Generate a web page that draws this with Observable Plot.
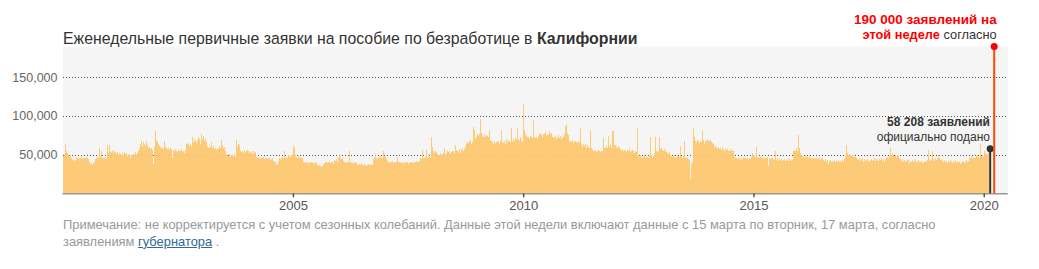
<!DOCTYPE html>
<html>
<head>
<meta charset="utf-8">
<script src="https://cdn.jsdelivr.net/npm/d3@7"></script>
<script src="https://cdn.jsdelivr.net/npm/@observablehq/plot@0.6"></script>
<style>
  body { margin: 0; background: #fff; font-family: "Liberation Sans", Arial, sans-serif; }
  #wrap { position: relative; width: 1039px; height: 269px; overflow: hidden; }
  #wrap svg { position: absolute; left: 0; top: 0; }
  .t { position: absolute; white-space: nowrap; }
  #title { left: 63px; top: 30.9px; font-size: 15.85px; line-height: 16px; color: #333; }
  #title b { font-weight: bold; }
  #red { right: 42.3px; top: 12.2px; line-height: 14.3px; text-align: right; color: #333; }
  #red .l1 { font-size: 13.5px; }
  #red .l2 { font-size: 12.8px; }
  #red b { color: #f00; }
  #black { right: 49px; top: 115px; font-size: 12px; line-height: 15px; text-align: right; color: #333; }
  #note { left: 63px; top: 217px; font-size: 12.9px; line-height: 16.7px; color: #999; }
  #note a { color: #326891; text-decoration: underline; }
</style>
</head>
<body>
<div id="wrap">
  <div class="t" id="title">Еженедельные первичные заявки на пособие по безработице в <b>Калифорнии</b></div>
  <div class="t" id="red"><span class="l1"><b>190 000 заявлений на</b></span><br><span class="l2"><b>этой неделе</b> согласно</span></div>
  <div class="t" id="black"><b>58 208 заявлений</b><br>официально подано</div>
  <div class="t" id="note">Примечание: не корректируется с учетом сезонных колебаний. Данные этой недели включают данные с 15 марта по вторник, 17 марта, согласно<br>заявлениям <a>губернатора</a> .</div>
</div>
<script>
// Weekly initial claims, thousands (52 weeks per year)
const y2000 = [50,48,51,64,54,52,49,47,46,48,45,43,44,42,43,46,45,47,44,46,45,47,44,46,45,40,46,47,45,44,40,38,39,37,38,39,41,44,46,47,45,58,60,47,55,46,45,47,44,46,62,52];
const y2001 = [62,57,55,53,56,52,54,53,51,52,53,50,52,51,49,52,50,53,49,51,52,48,50,51,45,50,52,49,51,50,53,50,52,55,58,62,64,67,60,66,63,61,67,64,62,58,60,57,59,56,38,60];
const y2002 = [81,70,69,66,63,61,60,58,59,57,62,68,60,58,57,59,56,58,55,57,45,56,54,57,55,53,56,52,55,54,57,53,55,52,56,62,64,63,65,61,64,60,72,66,68,70,67,65,69,72,70,64];
const y2003 = [77,72,70,74,68,71,66,60,58,59,57,60,66,58,61,57,59,56,60,58,57,61,59,69,62,58,60,57,55,50,49,48,51,47,50,46,49,48,51,47,69,60,64,62,43,55,53,54,52,56,53,55];
const y2004 = [56,54,55,52,53,55,51,54,52,53,50,47,46,45,47,44,46,45,47,46,44,45,46,44,45,46,43,45,44,46,42,40,41,38,36,40,39,45,44,46,47,45,54,46,44,47,45,49,48,47,50,49];
const y2005 = [62,58,50,48,47,46,48,45,47,46,45,47,41,40,39,41,40,38,41,39,40,41,39,40,38,40,39,36,35,34,36,35,34,35,36,39,40,38,40,39,41,40,39,40,41,38,54,43,42,44,41,47];
const y2006 = [51,45,44,43,45,42,41,40,39,41,40,54,40,39,41,40,38,40,39,41,38,37,36,38,37,39,36,37,38,36,37,35,37,38,36,37,38,37,36,44,46,51,45,44,47,46,44,48,45,46,55,48];
const y2007 = [47,44,42,40,41,39,41,40,42,39,40,41,39,40,47,41,40,39,41,40,38,42,40,39,41,40,38,41,39,42,40,41,39,40,41,42,40,41,43,42,45,44,56,46,45,47,44,56,46,48,47,45];
const y2008 = [72,60,55,52,62,54,53,51,50,49,52,50,53,51,52,58,50,52,54,53,55,52,51,53,54,55,52,62,56,54,55,53,57,52,56,58,54,57,55,60,63,66,65,68,67,64,69,66,86,82,70,72];
const y2009 = [76,74,77,96,78,75,74,73,76,72,75,74,73,82,75,69,67,66,64,68,65,66,87,68,66,64,67,82,65,66,68,67,64,70,66,69,67,65,84,68,66,70,67,71,69,84,70,68,56,72,69,66];
const y2010 = [115,82,76,74,72,75,73,70,74,72,71,94,73,71,75,72,70,74,76,78,75,73,81,77,76,79,74,77,75,80,76,74,78,72,73,71,74,70,73,72,75,71,74,70,73,72,76,87,74,90,78,75];
const y2011 = [68,67,66,69,65,67,64,68,66,65,67,66,84,63,62,60,64,61,63,59,62,60,58,61,82,59,57,55,54,56,53,55,54,56,55,53,54,55,71,58,60,59,61,58,74,60,62,59,61,80,80,62];
const y2012 = [62,60,59,61,58,57,56,55,57,54,56,55,53,56,54,55,57,53,54,56,55,52,54,55,53,84,48,47,49,46,48,45,47,49,46,48,47,45,48,73,47,49,46,48,52,72,55,53,56,54,72,57];
const y2013 = [58,56,55,57,53,54,52,55,51,53,49,48,47,49,48,46,48,47,49,48,47,61,48,46,47,48,67,46,47,45,44,43,19,36,38,40,84,72,68,66,69,70,67,65,68,66,80,69,64,67,65,68];
const y2014 = [70,68,67,69,66,65,64,62,60,61,59,58,60,57,59,56,58,60,57,55,58,56,57,54,56,55,57,54,56,55,47,46,45,38,44,46,45,43,46,44,47,45,43,46,44,45,43,46,44,47,68,52];
const y2015 = [50,48,47,60,46,47,45,48,44,46,45,47,44,46,45,47,43,35,45,44,46,45,43,44,54,44,43,45,42,44,43,44,42,45,43,44,42,43,44,42,45,43,44,42,43,55,56,54,58,55,57,75];
const y2016 = [58,52,49,48,47,46,48,47,45,47,46,48,46,44,46,45,47,44,45,46,44,45,46,43,45,44,45,43,42,44,41,43,38,42,40,43,41,42,40,43,41,42,44,40,43,41,42,40,43,41,44,47];
const y2017 = [62,54,52,50,51,49,48,50,47,49,48,47,45,44,43,45,42,44,43,45,41,44,42,43,44,42,45,41,43,44,42,43,45,42,44,41,43,42,44,43,45,42,44,43,41,44,46,47,45,48,59,50];
const y2018 = [51,51,49,48,50,47,49,48,46,44,43,42,44,41,43,40,42,44,41,43,39,42,41,43,40,42,44,41,39,42,43,40,41,42,39,43,41,40,42,41,43,56,44,42,45,43,54,44,42,45,43,46];
const y2019 = [50,47,45,43,44,42,41,43,40,42,41,39,42,40,43,41,39,42,40,41,43,39,41,42,40,38,41,43,40,42,39,41,43,40,42,44,46,45,48,44,47,46,45,48,46,49,47,45,64,48,50,47];
const y2020 = [55,52,50,51,49,53];

const seriesYears = [2000,2001,2002,2003,2004,2005,2006,2007,2008,2009,2010,2011,2012,2013,2014,2015,2016,2017,2018,2019,2020];
const seriesValues = [y2000,y2001,y2002,y2003,y2004,y2005,y2006,y2007,y2008,y2009,y2010,y2011,y2012,y2013,y2014,y2015,y2016,y2017,y2018,y2019,y2020];

const officialClaims = 58208;
const officialDate = "2020-02-17";
const estimateClaims = 190000;
const estimateDate = "2020-03-20";

const tickYears = [2005, 2010, 2015, 2020];
const yTicks = [50000, 100000, 150000];

const DAY = 864e5;
const rows = [];
seriesYears.forEach((yr, k) => {
  const vals = seriesValues[k];
  const y0 = Date.UTC(yr, 0, 1);
  vals.forEach((v, i) => {
    const x1 = new Date(y0 + i * 7 * DAY);
    const x2 = (i === 51) ? new Date(Date.UTC(yr + 1, 0, 1)) : new Date(y0 + (i + 1) * 7 * DAY);
    rows.push({x1, x2, v: v * 1000});
  });
});
const official = [{date: new Date(officialDate), v: officialClaims}];
const estimate = [{date: new Date(estimateDate), v: estimateClaims}];
const tickDates = tickYears.map(y => new Date(Date.UTC(y, 0, 1)));

const chart = Plot.plot({
  width: 1039,
  height: 269,
  marginLeft: 62.5,
  marginRight: 31.3,
  marginTop: 46,
  marginBottom: 75.7,
  style: {fontFamily: '"Liberation Sans", Arial, sans-serif', background: "transparent", color: "#555", overflow: "visible"},
  x: {type: "utc", domain: [new Date(Date.UTC(2000, 0, 1)), new Date(Date.UTC(2020, 6, 9))]},
  y: {domain: [0, 190000]},
  marks: [
    Plot.frame({fill: "#f5f5f5", stroke: "none"}),
    Plot.gridY(yTicks, {stroke: "#555", strokeOpacity: 1, strokeDasharray: "1,2", shapeRendering: "crispEdges"}),
    Plot.rectY(rows, {x1: "x1", x2: "x2", y: "v", fill: "#fdca77", shapeRendering: "crispEdges"}),
    Plot.gridY(yTicks, {stroke: "#555", strokeOpacity: 0.12, strokeDasharray: "1,2", shapeRendering: "crispEdges"}),
    Plot.ruleY([0], {stroke: "#999", strokeWidth: 1.5}),
    Plot.axisX(tickDates, {tickFormat: d3.utcFormat("%Y"), tickSize: 4, tickPadding: 3, fontSize: 13, label: null, color: "#555", strokeWidth: 1.5}),
    Plot.axisY(yTicks, {tickFormat: d3.format(","), tickSize: 0, tickPadding: 5.5, fontSize: 12.5, label: null, color: "#666"}),
    Plot.ruleX(official, {x: "date", y1: 0, y2: "v", stroke: "#333", strokeWidth: 2}),
    Plot.dot(official, {x: "date", y: "v", r: 3.5, fill: "#333"}),
    Plot.ruleX(estimate, {x: "date", y1: 0, y2: "v", stroke: "#ff4a00", strokeWidth: 2}),
    Plot.dot(estimate, {x: "date", y: "v", r: 3.5, fill: "#f00"})
  ]
});
document.getElementById("wrap").prepend(chart);
</script>
</body>
</html>
